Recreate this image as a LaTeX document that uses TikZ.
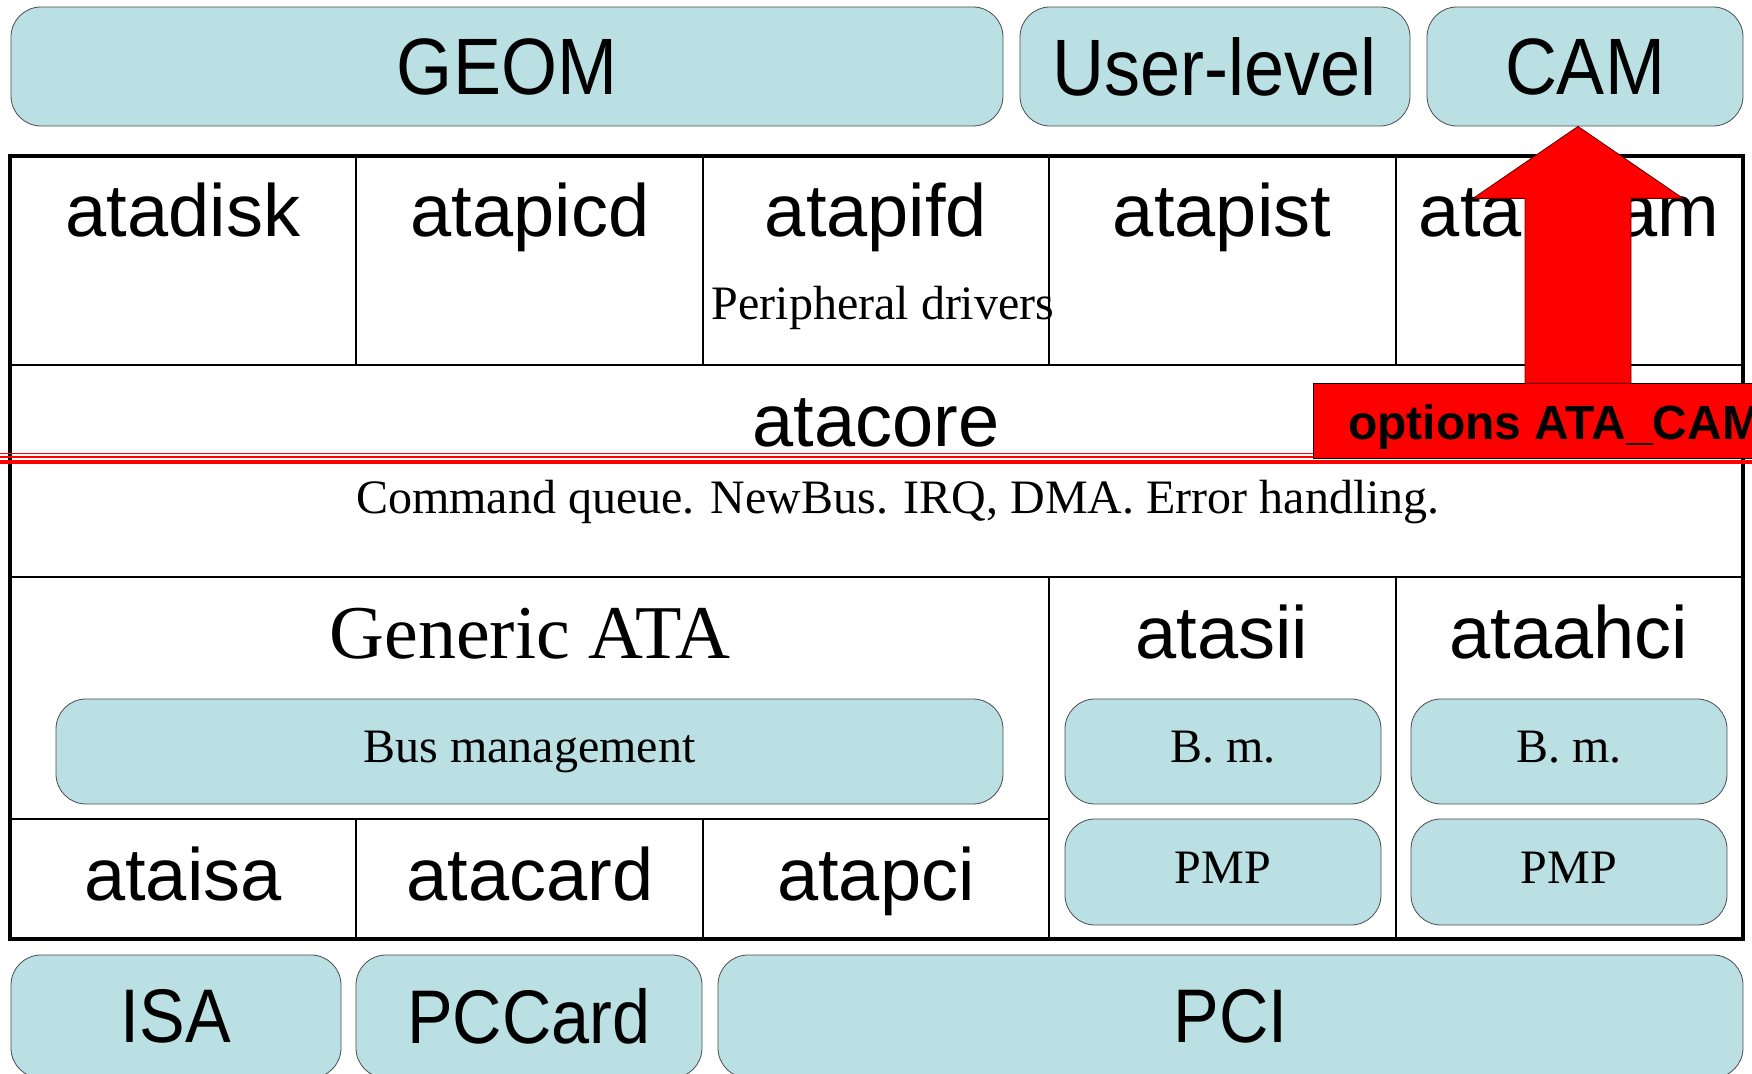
\documentclass[tikz,border=0pt]{standalone}
\usepackage{fontspec}
\setmainfont{Liberation Serif}
\setsansfont{Liberation Sans}
\newfontfamily\narrowsans[FakeStretch=0.9]{Liberation Sans}
\definecolor{busblue}{RGB}{186,224,227}
\definecolor{optred}{RGB}{255,0,0}

\begin{document}
\begin{tikzpicture}
[x=0.5pt,y=-0.5pt,%
  bluebox/.style={draw=black!70,thin,fill=busblue,rounded corners=15pt,inner sep=0pt},%
  topname/.style={font=\narrowsans\fontsize{40}{40}\selectfont},%
  busname/.style={font=\narrowsans\fontsize{38}{38}\selectfont},%
  drvname/.style={anchor=base,font=\sffamily\fontsize{37}{37}\selectfont},%
  bigserif/.style={anchor=base,font=\rmfamily\fontsize{38}{38}\selectfont},%
  smallserif/.style={font=\rmfamily\fontsize{24}{24}\selectfont},%
  bmbox/.style={bluebox,smallserif,text height=16pt,text depth=5pt},%
  frame/.style={draw,line width=2pt},%
  cell/.style={draw,line width=1pt},%
  redline/.style={draw=optred},%
  optbox/.style={draw=black,thin,fill=optred,inner sep=0pt},%
  optname/.style={anchor=base west,font=\sffamily\bfseries\fontsize{24}{24}\selectfont},%
  bigarrow/.style={fill=optred,draw=black!60!red,thin}]
\useasboundingbox (0,0) rectangle (1752,1074);
\node[bluebox,topname,minimum width=496pt,minimum height=59.5pt] (geom) at (507,66.5) {GEOM};
\node[bluebox,topname,minimum width=195pt,minimum height=59.5pt] (userlevel) at (1215,66.5) {User-level};
\node[bluebox,topname,minimum width=158pt,minimum height=59.5pt] (cam) at (1585,66.5) {CAM};

\draw[cell] (10,365) -- (1743,365);
\draw[cell] (10,577) -- (1743,577);
\draw[cell] (10,819) -- (1049,819);
\draw[cell] (356,156) -- (356,365);
\draw[cell] (703,156) -- (703,365);
\draw[cell] (1049,156) -- (1049,365);
\draw[cell] (1396,156) -- (1396,365);
\draw[cell] (1049,577) -- (1049,939);
\draw[cell] (1396,577) -- (1396,939);
\draw[cell] (356,819) -- (356,939);
\draw[cell] (703,819) -- (703,939);
\draw[frame] (10,156) rectangle (1743,939);

\node[drvname] (atadisk) at (183,237) {atadisk};
\node[drvname] (atapicd) at (530,237) {atapicd};
\node[drvname] (atapifd) at (876,237) {atapifd};
\node[drvname] (atapist) at (1222,237) {atapist};
\node[drvname] (atapicam) at (1569,237) {atapicam};
\node[smallserif,anchor=base] (periph) at (883,320) {Peripheral drivers};
\node[drvname] (atacore) at (876,447) {atacore};
\node[smallserif,anchor=base] (cmdq) at (898,514) {Command queue. NewBus. IRQ, DMA. Error handling.};

\node[bigserif] (generic) at (530,659) {Generic ATA};
\node[drvname] (atasii) at (1222,659) {atasii};
\node[drvname] (ataahci) at (1569,659) {ataahci};
\node[bmbox,minimum width=473.5pt,minimum height=52.5pt] (busmgmt) at (529.5,751.5) {Bus management};
\node[bmbox,minimum width=158pt,minimum height=52.5pt] (bmsii) at (1223,751.5) {B. m.};
\node[bmbox,minimum width=158pt,minimum height=52.5pt] (bmahci) at (1569,751.5) {B. m.};
\node[bmbox,minimum width=158pt,minimum height=53pt] (pmpsii) at (1223,872) {PMP};
\node[bmbox,minimum width=158pt,minimum height=53pt] (pmpahci) at (1569,872) {PMP};
\node[drvname] (ataisa) at (183,900) {ataisa};
\node[drvname] (atacard) at (530,900) {atacard};
\node[drvname] (atapci) at (876,900) {atapci};

\node[bluebox,busname,minimum width=165pt,minimum height=61.5pt] (isa) at (176,1016.5) {ISA};
\node[bluebox,busname,minimum width=173pt,minimum height=61.5pt] (pccard) at (529,1016.5) {PCCard};
\node[bluebox,busname,minimum width=512.5pt,minimum height=61.5pt] (pci) at (1230.5,1016.5) {PCI};

\draw[redline,line width=0.5pt] (0,454) -- (1752,454);
\draw[redline,line width=1pt] (0,457.5) -- (1752,457.5);
\draw[redline,line width=2pt] (0,462) -- (1752,462);
\node[optbox,anchor=north west,minimum width=250pt,minimum height=37.5pt] (opts) at (1313,383) {};
\node[optname] (optstext) at (1341,440) {options ATA\_CAM};
\draw[bigarrow] ([xshift=-3.5pt]cam.south) -- ++(105,72) -- ++(-52,0) -- ++(0,185)
  -- ++(-106,0) -- ++(0,-185) -- ++(-52,0) -- cycle;
\end{tikzpicture}
\end{document}
